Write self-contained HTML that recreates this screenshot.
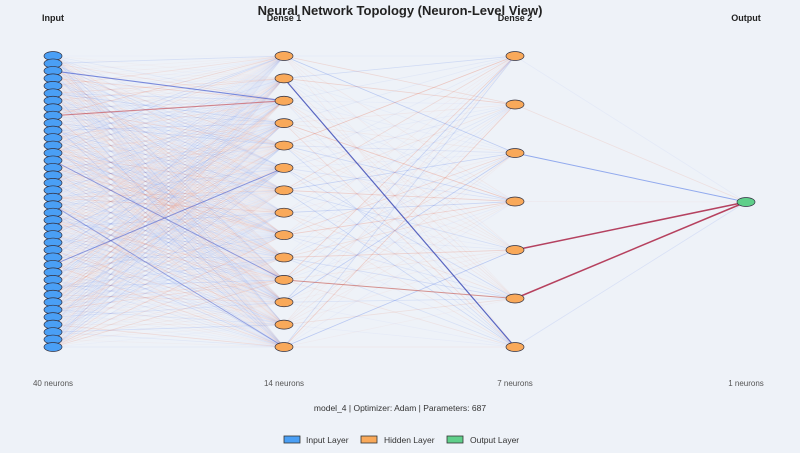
<!DOCTYPE html>
<html><head><meta charset="utf-8"><style>
body{margin:0;background:#eef2f8;}
svg{display:block;font-family:"Liberation Sans",sans-serif;}
</style></head><body>
<svg id="s" width="800" height="453" viewBox="0 0 800 453">
<rect width="800" height="453" fill="#eef2f8"/>
<g id="lines"></g>
<g id="nodes"></g>
<text x="400" y="15" text-anchor="middle" font-size="13" font-weight="bold" fill="#222">Neural Network Topology (Neuron-Level View)</text>
<text x="53" y="21" text-anchor="middle" font-size="9" font-weight="bold" fill="#222">Input</text>
<text x="284" y="21" text-anchor="middle" font-size="9" font-weight="bold" fill="#222">Dense 1</text>
<text x="515" y="21" text-anchor="middle" font-size="9" font-weight="bold" fill="#222">Dense 2</text>
<text x="746" y="21" text-anchor="middle" font-size="9" font-weight="bold" fill="#222">Output</text>
<text x="53" y="386" text-anchor="middle" font-size="8" fill="#555">40 neurons</text>
<text x="284" y="386" text-anchor="middle" font-size="8" fill="#555">14 neurons</text>
<text x="515" y="386" text-anchor="middle" font-size="8" fill="#555">7 neurons</text>
<text x="746" y="386" text-anchor="middle" font-size="8" fill="#555">1 neurons</text>
<text x="400" y="411" text-anchor="middle" font-size="8.5" fill="#333">model_4 | Optimizer: Adam | Parameters: 687</text>
<rect x="284" y="436" width="16" height="7" fill="#4a9ff5" stroke="#333" stroke-width="0.8"/>
<text x="306" y="443" font-size="8.5" fill="#333">Input Layer</text>
<rect x="361" y="436" width="16" height="7" fill="#f9a95a" stroke="#333" stroke-width="0.8"/>
<text x="384" y="443" font-size="8.5" fill="#333">Hidden Layer</text>
<rect x="447" y="436" width="16" height="7" fill="#5fcf8a" stroke="#333" stroke-width="0.8"/>
<text x="470" y="443" font-size="8.5" fill="#333">Output Layer</text>
</svg>
<script>
var ns="http://www.w3.org/2000/svg";
var L=[{x:53,n:40,c:"#4a9ff5"},{x:284,n:14,c:"#f9a95a"},{x:515,n:7,c:"#f9a95a"},{x:746,n:1,c:"#5fcf8a"}];
function ys(l){var a=[];if(l.n==1)return[202];for(var i=0;i<l.n;i++)a.push(56+i*(291/(l.n-1)));return a;}
var seed=7;function r(){seed=(seed*16807)%2147483647;return seed/2147483647;}
var g=document.getElementById("lines"),gn=document.getElementById("nodes");
function line(x1,y1,x2,y2,c,o,w){var e=document.createElementNS(ns,"line");e.setAttribute("x1",x1);e.setAttribute("y1",y1);e.setAttribute("x2",x2);e.setAttribute("y2",y2);e.setAttribute("stroke",c);e.setAttribute("stroke-opacity",o);e.setAttribute("stroke-width",w);g.appendChild(e);}
for(var k=0;k<3;k++){var A=ys(L[k]),B=ys(L[k+1]);
for(var i=0;i<A.length;i++)for(var j=0;j<B.length;j++){var v=r();var c=r()<0.5?"#e8765a":"#5a7ee8";
var o=k==0?0.035+0.18*Math.pow(v,4):(k==1?0.05+0.3*Math.pow(v,3):0.06+0.2*Math.pow(v,3));line(L[k].x,A[i],L[k+1].x,B[j],c,o,0.8);}}
var D1=ys(L[1]),D2=ys(L[2]),I=ys(L[0]);
line(284,D1[1],515,D2[6],"#3f4fb8",0.85,1.2);
line(53,I[2],284,D1[2],"#4a5fd0",0.7,1.1);
line(53,I[8],284,D1[2],"#c0404a",0.6,1.1);
line(53,I[14],284,D1[10],"#4a5fd0",0.55,1);
line(53,I[28],284,D1[5],"#4a5fd0",0.6,1);
line(53,I[20],284,D1[13],"#4a5fd0",0.5,1);
line(284,D1[10],515,D2[5],"#d05a4a",0.6,1);
line(515,D2[4],746,202,"#b03050",0.9,1.5);
line(515,D2[5],746,202,"#b03050",0.9,1.5);
line(515,D2[2],746,202,"#5a7ee8",0.6,1);
for(var k=0;k<4;k++){var Y=ys(L[k]);for(var i=0;i<Y.length;i++){var e=document.createElementNS(ns,"ellipse");e.setAttribute("cx",L[k].x);e.setAttribute("cy",Y[i]);e.setAttribute("rx",9);e.setAttribute("ry",k==0?4.5:4.5);e.setAttribute("fill",L[k].c);e.setAttribute("stroke","#334");e.setAttribute("stroke-width",0.7);gn.appendChild(e);}}
</script>
</body></html>
